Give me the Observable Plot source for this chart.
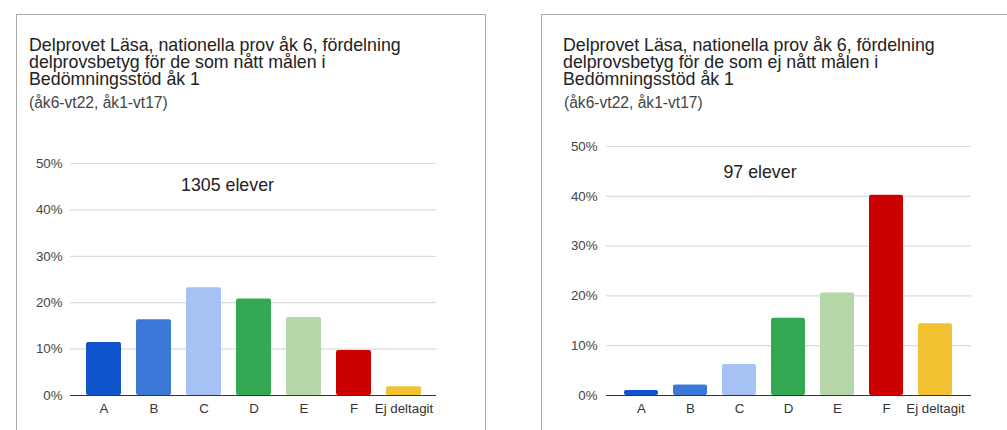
<!DOCTYPE html>
<html>
<head>
<meta charset="utf-8">
<script src="https://cdn.jsdelivr.net/npm/d3@7"></script>
<script src="https://cdn.jsdelivr.net/npm/@observablehq/plot@0.6"></script>
<style>
  html, body { margin: 0; padding: 0; background: #fff; }
  #root { position: relative; width: 1007px; height: 430px; overflow: hidden; background: #fff;
          font-family: "Liberation Sans", Arial, sans-serif; }
  .panel { position: absolute; top: 14px; height: 440px; border: 1px solid #ababab; border-bottom: none; box-sizing: border-box; }
  .title { position: absolute; font-size: 17.8px; line-height: 17px; color: #222; white-space: nowrap; }
  .sub { position: absolute; font-size: 15.6px; line-height: 17px; color: #444; white-space: nowrap; }
</style>
</head>
<body>
<div id="root"></div>
<script>
// ---- data ----
const categories = ["A", "B", "C", "D", "E", "F", "Ej deltagit"];
const gradeColors = ["#1155cc", "#3c78d8", "#a4c2f4", "#34a853", "#b6d7a8", "#cc0000", "#f1c232"];
const uppnattValues = [11.4, 16.3, 23.2, 20.8, 16.8, 9.7, 1.9];      // % of 1305 elever
const ejUppnattValues = [1.0, 2.1, 6.2, 15.5, 20.6, 40.2, 14.4];    // % of 97 elever
const yTicks = [0, 10, 20, 30, 40, 50];
const leftTitle = ["Delprovet Läsa, nationella prov åk 6, fördelning", "delprovsbetyg för de som nått målen i", "Bedömningsstöd åk 1"];
const rightTitle = ["Delprovet Läsa, nationella prov åk 6, fördelning", "delprovsbetyg för de som ej nått målen i", "Bedömningsstöd åk 1"];
const subtitle = "(åk6-vt22, åk1-vt17)";
const leftNote = "1305 elever";
const rightNote = "97 elever";

const root = document.getElementById("root");

function addPanel(left, width) {
  const d = document.createElement("div");
  d.className = "panel";
  d.style.left = left + "px";
  d.style.width = width + "px";
  root.appendChild(d);
}
function addText(cls, html, left, top) {
  const d = document.createElement("div");
  d.className = cls;
  d.innerHTML = html;
  d.style.left = left + "px";
  d.style.top = top + "px";
  root.appendChild(d);
}

function chart(values, note, opts) {
  const data = categories.map((c, i) => ({grade: c, value: values[i], color: gradeColors[i]}));
  const svg = Plot.plot({
    width: opts.width,
    height: opts.height,
    marginLeft: opts.ml,
    marginRight: opts.mr,
    marginTop: opts.mt,
    marginBottom: opts.mb,
    style: {fontFamily: '"Liberation Sans", Arial, sans-serif', fontSize: "13.3px", color: "#444", background: "transparent", overflow: "visible"},
    x: {domain: categories, paddingInner: 0.3, paddingOuter: 0.31, label: null},
    y: {domain: [0, 50], label: null},
    marks: [
      Plot.gridY(yTicks, {stroke: "#dcdcdc", strokeOpacity: 1, strokeWidth: 1.2}),
      Plot.axisY(yTicks, {tickSize: 0, tickPadding: opts.yPad, tickFormat: d => d + "%", fill: "#444", label: null}),
      Plot.axisX({tickSize: 0, tickPadding: 8, fill: "#333", label: null}),
      Plot.barY(data, {x: "grade", y: "value", fill: "color", rx: 2}),
      Plot.ruleY([0], {stroke: "#333", strokeWidth: 1}),
      Plot.text([note], {frameAnchor: "top", lineAnchor: "middle", dx: opts.ndx, dy: opts.ndy, fontSize: 17.8, fill: "#222", text: d => d})
    ]
  });
  svg.style.position = "absolute";
  svg.style.left = opts.left + "px";
  svg.style.top = opts.top + "px";
  root.appendChild(svg);
}

// left panel
addPanel(16, 470);
leftTitle.forEach((t, i) => addText("title", t, 29, 37.3 + i * 17));
addText("sub", subtitle, 29, 94);
chart(uppnattValues, leftNote, {left: 0, top: 140, width: 486, height: 290, ml: 70, mr: 50, mt: 23, mb: 35, yPad: 8, ndx: -26, ndy: 22});

// right panel
addPanel(541, 520);
rightTitle.forEach((t, i) => addText("title", t, 563, 37.3 + i * 17));
addText("sub", subtitle, 564, 94);
chart(ejUppnattValues, rightNote, {left: 542, top: 125, width: 465, height: 305, ml: 64, mr: 36, mt: 21, mb: 35, yPad: 9, ndx: -29, ndy: 26});
</script>
</body>
</html>
